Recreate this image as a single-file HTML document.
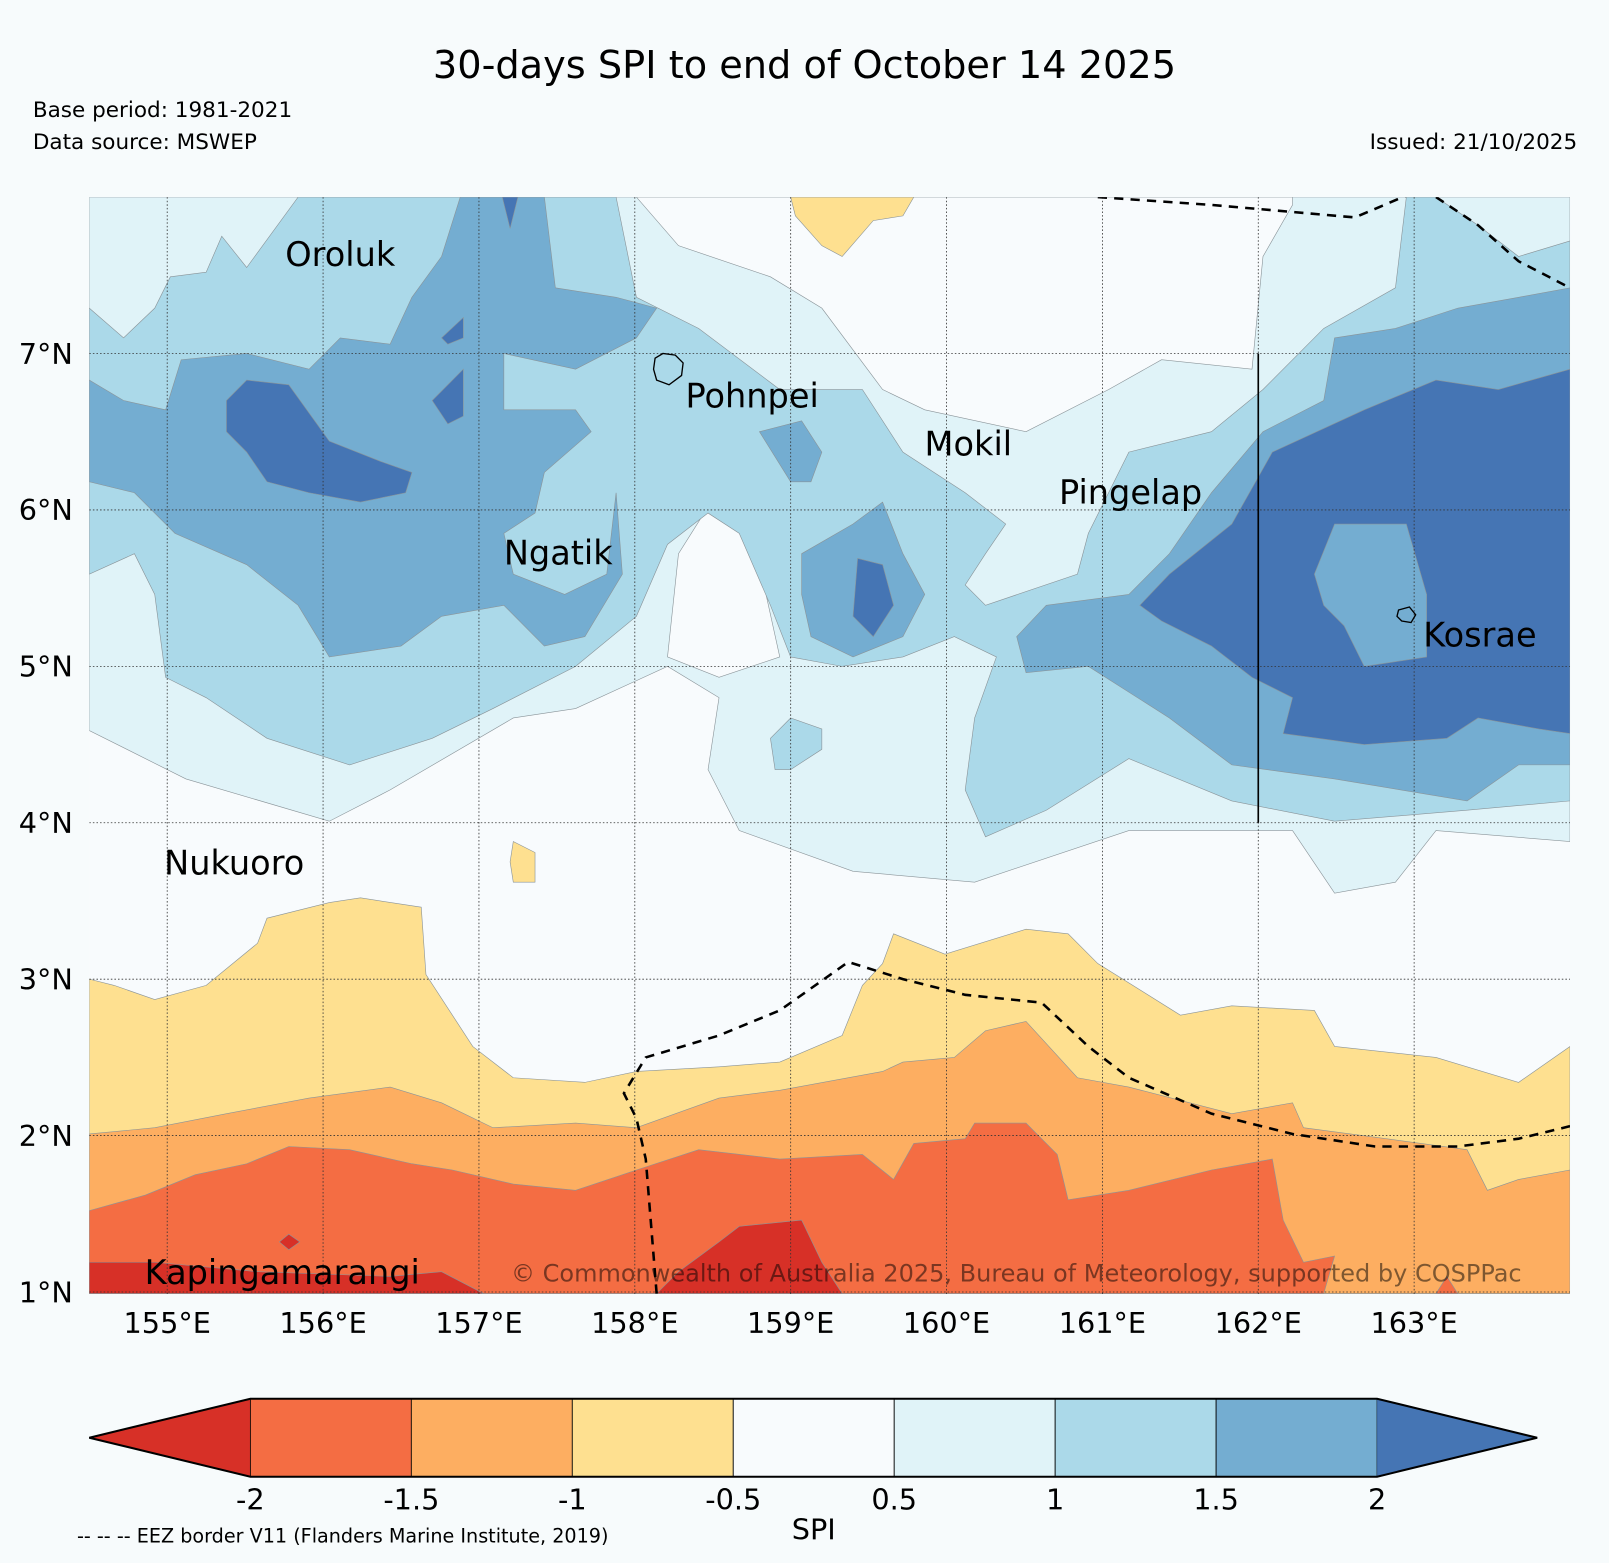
<!DOCTYPE html>
<html><head><meta charset="utf-8">
<style>
html,body{margin:0;padding:0;background:#f7fbfc;}
svg{display:block;font-family:"DejaVu Sans","Liberation Sans",sans-serif;}
</style></head>
<body>
<svg id="chart" width="1609" height="1563" viewBox="0 0 1568 1523" xmlns="http://www.w3.org/2000/svg">
<rect width="1568" height="1523" fill="#f7fbfc"/>
<text x="784" y="76" font-size="37.3" text-anchor="middle">30-days SPI to end of October 14 2025</text>
<text x="32" y="114" font-size="21">Base period: 1981-2021</text>
<text x="32" y="145" font-size="21">Data source: MSWEP</text>
<text x="1537" y="145" font-size="21" text-anchor="end">Issued: 21/10/2025</text>
<defs><clipPath id="mapclip"><rect x="87" y="192" width="1443" height="1069"/></clipPath></defs>
<g id="map" clip-path="url(#mapclip)">
<rect x="87" y="192" width="1443" height="1069" fill="#f8fbfd"/>
</g>
<g id="labels" font-size="32.7">
<text x="278" y="259">Oroluk</text>
<text x="668" y="397">Pohnpei</text>
<text x="901" y="444">Mokil</text>
<text x="1032" y="491">Pingelap</text>
<text x="491" y="550">Ngatik</text>
<text x="1387" y="630">Kosrae</text>
<text x="160" y="852">Nukuoro</text>
<text x="141" y="1251">Kapingamarangi</text>
</g>
<text x="498" y="1249" font-size="23.4" fill="#000" fill-opacity="0.5">© Commonwealth of Australia 2025, Bureau of Meteorology, supported by COSPPac</text>
<g id="axes" font-size="28"></g>
<g id="cbar"></g>
<text x="793" y="1500" font-size="28" text-anchor="middle">SPI</text>
<text x="75" y="1503" font-size="18.7">-- -- -- EEZ border V11 (Flanders Marine Institute, 2019)</text>
</svg>
<script>
// ---- data ----
const lonTicks = [155,156,157,158,159,160,161,162,163];
const latTicks = [1,2,3,4,5,6,7];
const cbLevels = [-2,-1.5,-1,-0.5,0.5,1,1.5,2];
const cbColors = ["#d73027","#f46d43","#fdae61","#fee090","#f8fbfd","#e0f3f8","#abd9e9","#74add1","#4575b4"];
const cbLabels = ["-2","-1.5","-1","-0.5","0.5","1","1.5","2"];
const bandA = [154.5,8,164,8,164,3.88,163.14,3.95,162.88,3.62,162.49,3.55,162.22,3.95,161.17,3.95,160.18,3.62,159.4,3.69,158.67,3.95,158.47,4.34,158.54,4.8,158.21,5.0,157.62,4.73,157.22,4.67,156.43,4.21,156.04,4.01,155.12,4.28,154.5,4.59];
const holeN = [158.01,8,158.28,7.69,158.87,7.49,159.2,7.29,159.59,6.77,159.86,6.64,160.51,6.5,161.04,6.77,161.38,6.96,161.96,6.9,162.03,7.62,162.22,7.95,162.22,8];
const holeC = [158.47,6.02,158.67,5.98,158.8,5.65,158.93,5.06,158.54,4.93,158.21,5.06,158.28,5.72];
const bandB = [154.5,7.29,154.72,7.1,154.92,7.29,155.02,7.49,155.25,7.52,155.35,7.75,155.51,7.55,155.84,8,157.88,8,158.01,7.36,158.41,7.16,158.93,6.77,159.46,6.77,159.72,6.37,160.12,6.11,160.38,5.91,160.25,5.72,160.12,5.52,160.25,5.39,160.84,5.59,160.91,5.85,161.17,6.37,161.7,6.5,162.03,6.77,162.42,7.16,162.88,7.42,162.95,8,163.14,8,163.41,7.82,163.67,7.62,164,7.72,164,4.14,163.34,4.08,162.49,4.01,161.83,4.14,161.17,4.41,160.64,4.08,160.25,3.91,160.12,4.21,160.18,4.67,160.32,5.06,160.05,5.19,159.72,5.06,159.33,5.0,159.0,5.06,158.87,5.39,158.67,5.85,158.47,5.98,158.21,5.78,158.01,5.32,157.62,5.0,157.09,4.73,156.7,4.54,156.17,4.37,155.64,4.54,155.25,4.8,154.99,4.93,154.92,5.46,154.79,5.72,154.5,5.59];
const bandB2 = [158.87,4.54,159.0,4.67,159.2,4.6,159.2,4.47,159.0,4.34,158.9,4.34];
const bandC1 = [154.5,6.83,154.72,6.7,154.99,6.64,155.09,6.96,155.51,7.0,155.91,6.9,156.11,7.1,156.43,7.06,156.57,7.36,156.76,7.62,156.88,8,157.42,8,157.49,7.42,157.88,7.36,158.14,7.29,158.01,7.1,157.62,6.9,157.16,7.0,157.16,6.64,157.62,6.64,157.72,6.5,157.42,6.24,157.36,5.98,157.16,5.85,157.22,5.59,157.55,5.46,157.82,5.59,157.88,6.11,157.92,5.59,157.68,5.19,157.42,5.13,157.16,5.39,156.76,5.32,156.5,5.13,156.04,5.06,155.84,5.39,155.51,5.65,155.05,5.85,154.79,6.11,154.5,6.18];
const bandC2 = [159.07,5.72,159.4,5.91,159.59,6.05,159.72,5.72,159.86,5.46,159.72,5.19,159.4,5.06,159.13,5.19,159.07,5.46];
const bandC3 = [158.8,6.5,159.07,6.57,159.2,6.37,159.13,6.18,159.0,6.18];
const bandC4 = [160.45,5.19,160.64,5.39,161.17,5.46,161.43,5.72,161.7,6.11,162.03,6.5,162.42,6.7,162.49,7.1,162.88,7.16,163.28,7.29,163.67,7.36,164,7.42,164,4.37,163.67,4.37,163.34,4.14,162.49,4.28,161.83,4.37,161.43,4.67,160.91,5.0,160.51,4.96];
const bandD1 = [155.38,6.7,155.51,6.83,155.78,6.8,156.04,6.44,156.37,6.31,156.57,6.24,156.53,6.11,156.24,6.05,155.91,6.11,155.64,6.18,155.51,6.37,155.38,6.5];
const bandD2 = [156.76,7.1,156.9,7.23,156.9,7.1,156.8,7.06];
const bandD3 = [156.7,6.7,156.9,6.9,156.9,6.6,156.8,6.55];
const bandD4 = [157.15,8,157.25,8,157.2,7.8];
const bandD5 = [159.43,5.69,159.59,5.65,159.66,5.39,159.53,5.19,159.4,5.32];
const bandD6 = [161.24,5.39,161.43,5.59,161.83,5.91,162.09,6.37,162.68,6.64,163.14,6.83,163.54,6.77,164,6.9,164,4.57,163.8,4.6,163.41,4.67,163.21,4.54,162.68,4.5,162.16,4.57,162.22,4.8,161.96,4.93,161.7,5.13,161.38,5.29];
const holeD = [162.36,5.59,162.49,5.91,162.95,5.91,163.08,5.46,163.08,5.06,162.68,5.0,162.55,5.26,162.42,5.39];
const bandY1 = [154.5,3.0,154.66,2.96,154.92,2.87,155.25,2.96,155.58,3.23,155.64,3.39,156.04,3.49,156.24,3.52,156.63,3.46,156.66,3.03,156.96,2.57,157.22,2.37,157.68,2.34,158.01,2.41,158.54,2.44,158.93,2.47,159.33,2.64,159.46,2.96,159.59,3.1,159.66,3.29,159.99,3.16,160.51,3.32,160.78,3.29,160.97,3.1,161.5,2.77,161.83,2.83,162.36,2.8,162.49,2.57,163.14,2.5,163.67,2.34,164,2.57,164,0.99,154.5,0.99];
const bandY2 = [157.22,3.88,157.36,3.81,157.36,3.62,157.22,3.62,157.2,3.75];
const bandY3 = [159.0,8,159.79,8,159.72,7.88,159.53,7.85,159.33,7.62,159.2,7.69,159.03,7.88];
const bandO = [154.5,2.01,154.92,2.05,155.38,2.14,155.91,2.24,156.43,2.31,156.76,2.21,157.09,2.05,157.62,2.08,158.01,2.05,158.54,2.24,158.93,2.29,159.59,2.41,159.72,2.47,160.05,2.5,160.25,2.67,160.51,2.73,160.84,2.37,161.17,2.31,161.83,2.14,162.22,2.21,162.29,2.05,162.82,1.98,163.34,1.91,163.47,1.65,163.67,1.72,164,1.78,164,0.99,154.5,0.99];
const bandR1 = [154.5,1.52,154.86,1.62,155.18,1.75,155.51,1.82,155.78,1.93,156.17,1.91,156.57,1.82,156.83,1.78,157.22,1.69,157.62,1.65,158.01,1.78,158.41,1.91,158.93,1.85,159.46,1.88,159.66,1.72,159.79,1.95,160.12,1.98,160.18,2.08,160.51,2.08,160.71,1.88,160.78,1.59,161.17,1.65,161.7,1.78,162.09,1.85,162.16,1.46,162.29,1.19,162.49,1.23,162.42,0.99,154.5,0.99];
const bandR2 = [163.14,0.99,163.21,1.1,163.28,0.99];
const bandDR1 = [154.5,1.19,154.92,1.19,155.58,1.13,156.43,1.1,156.76,1.13,157.03,0.99,154.5,0.99];
const bandDR2 = [158.14,0.99,158.28,1.13,158.54,1.32,158.67,1.42,159.07,1.46,159.2,1.19,159.33,0.99];
const bandDR3 = [155.78,1.37,155.85,1.32,155.78,1.27,155.72,1.32];
const eezTop1 = [160.97,8,161.7,7.95,162.62,7.87,162.95,8.01];
const eezTop2 = [163.14,8,163.41,7.82,163.67,7.59,164,7.42];
const eezBottom = [158.14,0.99,158.07,1.85,158.01,2.11,157.93,2.27,158.07,2.5,158.54,2.64,158.93,2.8,159.37,3.11,159.72,3.0,160.12,2.9,160.61,2.85,160.91,2.57,161.17,2.37,161.7,2.14,162.22,2.01,162.75,1.93,163.28,1.93,163.67,1.98,164,2.06];
const pohnpei = [158.13,6.97,158.18,7.0,158.26,6.99,158.31,6.94,158.3,6.86,158.22,6.8,158.14,6.83,158.12,6.9];
const kosrae = [162.9,5.36,162.97,5.38,163.01,5.33,162.98,5.28,162.92,5.29,162.89,5.32];
const boundaryLon = [162,162]; const boundaryLat = [7,4];

// ---- axis functions ----
const X0=87, X1=1530, Y0=192, Y1=1259;
const LON0=154.5, LON1=164, LAT0=1.0, LAT1=8.0;
function x(lon){return X0+(lon-LON0)/(LON1-LON0)*(X1-X0);}
function y(lat){return Y0+(LAT1-lat)/(LAT1-LAT0)*(Y1-Y0);}
const NS="http://www.w3.org/2000/svg";
function mk(tag,attrs,parent){const e=document.createElementNS(NS,tag);for(const k in attrs)e.setAttribute(k,attrs[k]);parent.appendChild(e);return e;}
function pts(a){let s=[];for(let i=0;i<a.length;i+=2)s.push(x(a[i]).toFixed(1)+","+y(a[i+1]).toFixed(1));return s.join(" ");}
const map=document.getElementById("map");
function band(arr,color,name){
  const p=mk("polygon",{points:pts(arr),fill:color,stroke:"#8a9499","stroke-width":"0.6"},map);
  
  
}
band(bandA,cbColors[5],"band-0.5-1");
band(holeN,cbColors[4],"band-neutral-north");
band(holeC,cbColors[4],"band-neutral-center");
band(bandB,cbColors[6],"band-1-1.5");
band(bandB2,cbColors[6],"band-1-1.5-patch");
band(bandC1,cbColors[7],"band-1.5-2-west");
band(bandC2,cbColors[7],"band-1.5-2-center");
band(bandC3,cbColors[7],"band-1.5-2-small");
band(bandC4,cbColors[7],"band-1.5-2-east");
band(bandD1,cbColors[8],"band-gt2-west");
band(bandD2,cbColors[8],"band-gt2-spot1");
band(bandD3,cbColors[8],"band-gt2-spot2");
band(bandD4,cbColors[8],"band-gt2-spot3");
band(bandD5,cbColors[8],"band-gt2-center");
band(bandD6,cbColors[8],"band-gt2-east");
band(holeD,cbColors[7],"band-1.5-2-kosrae");
band(bandY1,cbColors[3],"band-neg0.5-neg1");
band(bandY2,cbColors[3],"band-neg0.5-blob");
band(bandY3,cbColors[3],"band-neg0.5-north");
band(bandO,cbColors[2],"band-neg1-neg1.5");
band(bandR1,cbColors[1],"band-neg1.5-neg2");
band(bandR2,cbColors[1],"band-neg1.5-spot");
band(bandDR1,cbColors[0],"band-lt-neg2-west");
band(bandDR2,cbColors[0],"band-lt-neg2-center");
band(bandDR3,cbColors[0],"band-lt-neg2-spot");

lonTicks.forEach(function(l){
  const g=mk("line",{x1:x(l),x2:x(l),y1:Y0,y2:1261,stroke:"#333","stroke-width":"0.8","stroke-dasharray":"1.5,2"},map);
  
  
});
latTicks.forEach(function(l){
  const g=mk("line",{x1:X0,x2:X1,y1:y(l),y2:y(l),stroke:"#333","stroke-width":"0.8","stroke-dasharray":"1.5,2"},map);
  
  
});
function line(arr,name,dash,w){
  const p=mk("polyline",{points:pts(arr),fill:"none",stroke:"#000","stroke-width":w,"stroke-dasharray":dash},map);
  
  
}
line(eezTop1,"eez-border-north","9,7","2.5");
line(eezTop2,"eez-border-northeast","9,7","2.5");
line(eezBottom,"eez-border-south","9,7","2.5");
const bl=mk("line",{x1:x(boundaryLon[0]),x2:x(boundaryLon[1]),y1:y(boundaryLat[0]),y2:y(boundaryLat[1]),stroke:"#000","stroke-width":"1.6"},map);


const pi=mk("polygon",{points:pts(pohnpei),fill:"none",stroke:"#000","stroke-width":"1.3"},map);


const ki=mk("polygon",{points:pts(kosrae),fill:"none",stroke:"#000","stroke-width":"1.3"},map);



const axes=document.getElementById("axes");
lonTicks.forEach(function(l){
  const t=mk("text",{x:x(l),y:1299,"text-anchor":"middle"},axes);
  t.textContent=l+"°E";
  
  
});
latTicks.forEach(function(l){
  const t=mk("text",{x:71,y:y(l)+10,"text-anchor":"end"},axes);
  t.textContent=l+"°N";
  
  
});

const cb=document.getElementById("cbar");
const CB0=244, CB1=1342, CBT=1363, CBB=1439, CBM=1401, TIPL=87, TIPR=1498;
function cbx(i){return CB0+i*(CB1-CB0)/(cbLevels.length-1);}
const lt=mk("polygon",{points:TIPL+","+CBM+" "+CB0+","+CBT+" "+CB0+","+CBB,fill:cbColors[0]},cb);


for(let i=0;i<cbLevels.length-1;i++){
  const r=mk("rect",{x:cbx(i),y:CBT,width:cbx(i+1)-cbx(i),height:CBB-CBT,fill:cbColors[i+1],stroke:"#000","stroke-width":"0.8"},cb);
  
  
}
const rt=mk("polygon",{points:CB1+","+CBT+" "+TIPR+","+CBM+" "+CB1+","+CBB,fill:cbColors[8]},cb);


const ol=mk("polygon",{points:TIPL+","+CBM+" "+CB0+","+CBT+" "+CB1+","+CBT+" "+TIPR+","+CBM+" "+CB1+","+CBB+" "+CB0+","+CBB,fill:"none",stroke:"#000","stroke-width":"2"},cb);


cbLabels.forEach(function(s,i){
  const t=mk("text",{x:cbx(i),y:1471,"text-anchor":"middle","font-size":"28"},cb);
  t.textContent=s;
  
  
});
</script>
</body></html>
